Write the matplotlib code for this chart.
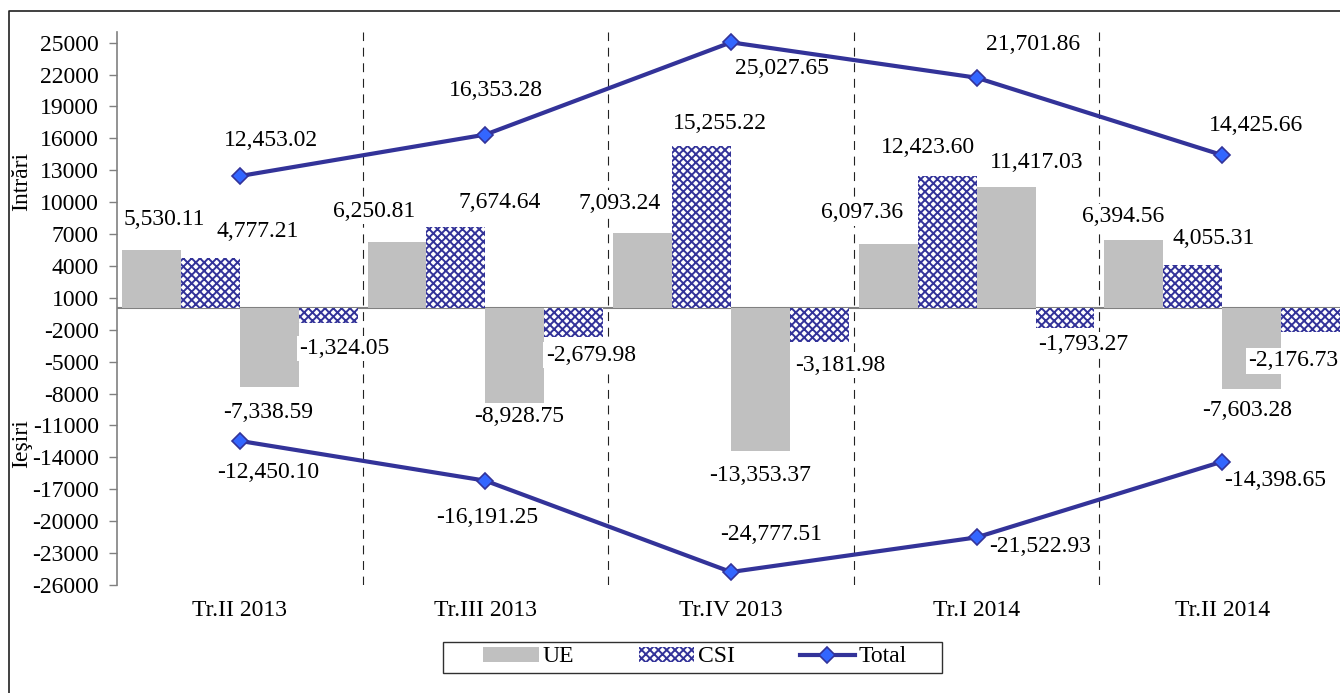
import matplotlib
matplotlib.use("Agg")
import matplotlib.pyplot as plt
import numpy as np
from matplotlib.patches import Patch, Rectangle
from matplotlib.lines import Line2D

plt.rcParams["font.family"] = ["Liberation Serif", "DejaVu Serif"]
plt.rcParams["font.size"] = 17
plt.rcParams["hatch.linewidth"] = 1.4
plt.rcParams["axes.unicode_minus"] = False

# date
trimestre = ["Tr.II 2013", "Tr.III 2013", "Tr.IV 2013", "Tr.I 2014", "Tr.II 2014"]
ue_intrari = [5530.11, 6250.81, 7093.24, 6097.36, 6394.56]
csi_intrari = [4777.21, 7674.64, 15255.22, 12423.60, 4055.31]
ue_iesiri = [-7338.59, -8928.75, -13353.37, 11417.03, -7603.28]
csi_iesiri = [-1324.05, -2679.98, -3181.98, -1793.27, -2176.73]
total_intrari = [12453.02, 16353.28, 25027.65, 21701.86, 14425.66]
total_iesiri = [-12450.10, -16191.25, -24777.51, -21522.93, -14398.65]

GRI = "#C0C0C0"
ALBASTRU = "#333399"
MARKER = "#3366FF"
HASURA = "xxxx"

# decalaje etichete (pixeli) fata de capatul barei / marker
off_ue_in = [(13, 30), (-23, 31), (-23, 30), (-26, 31), (-11, 24)]
off_csi_in = [(47, 26), (44, 24), (18, 23), (-19, 29), (21, 27)]
off_ue_out = [(-1, -26), (4, -13), (0, -25), (31, 25), (-5, -21)]
off_csi_out = [(16, -26), (17, -18), (21, -23), (18, -17), (-17, -29)]
off_tot_in = [(31, 36), (11, 44), (51, -26), (56, 33), (34, 30)]
off_tot_out = [(28, -32), (2, -37), (40, 37), (63, -9), (53, -19)]

fig = plt.figure(figsize=(13.4, 6.93), dpi=100)
ax = fig.add_axes([117 / 1340, 108 / 693, 1228 / 1340, 553 / 693])

x = np.arange(len(trimestre))
w = 0.24
pozitii = [-1.5 * w, -0.5 * w, 0.5 * w, 1.5 * w]

ax.bar(x + pozitii[0], ue_intrari, w, color=GRI, linewidth=0, zorder=3)
ax.bar(x + pozitii[1], csi_intrari, w, facecolor="white", edgecolor=ALBASTRU,
       hatch=HASURA, linewidth=0, zorder=3)
ax.bar(x + pozitii[2], ue_iesiri, w, color=GRI, linewidth=0, zorder=3)
ax.bar(x + pozitii[3], csi_iesiri, w, facecolor="white", edgecolor=ALBASTRU,
       hatch=HASURA, linewidth=0, zorder=3)

ax.plot(x, total_intrari, color=ALBASTRU, lw=3, marker="D", ms=8.5,
        mfc=MARKER, mec=ALBASTRU, mew=1.2, zorder=6)
ax.plot(x, total_iesiri, color=ALBASTRU, lw=3, marker="D", ms=8.5,
        mfc=MARKER, mec=ALBASTRU, mew=1.2, zorder=6)

cutie = dict(boxstyle="square,pad=0.1", facecolor="white", edgecolor="none")


def eticheta(xs, vals, offs, z):
    for xi, v, (dx, dy) in zip(xs, vals, offs):
        ax.annotate(f"{v:,.2f}", (xi, v), xytext=(dx, dy), textcoords="offset pixels",
                    ha="center", va="center", bbox=cutie, zorder=z)


eticheta(x + pozitii[0], ue_intrari, off_ue_in, 4)
eticheta(x + pozitii[1], csi_intrari, off_csi_in, 4)
eticheta(x + pozitii[2], ue_iesiri, off_ue_out, 2.5)
eticheta(x + pozitii[3], csi_iesiri, off_csi_out, 4)
eticheta(x, total_intrari, off_tot_in, 4)
eticheta(x, total_iesiri, off_tot_out, 4)

# separatoare intre trimestre
for xs in x[:-1] + 0.5:
    ax.axvline(xs, color="#222222", lw=0.8, ls=(0, (8, 6)), zorder=1)

ax.axhline(0, color="#808080", lw=1.5, zorder=2)

ax.set_xlim(-0.5, len(trimestre) - 0.5)
ax.set_ylim(-26000, 26000)
ax.set_yticks(np.arange(-26000, 25001, 3000))
ax.set_xticks(x)
ax.set_xticklabels(trimestre)
ax.tick_params(axis="x", length=0, pad=11)
ax.tick_params(axis="y", length=6, width=1, color="#808080", pad=7)

for s in ["top", "right", "bottom"]:
    ax.spines[s].set_visible(False)
ax.spines["left"].set_color("#808080")
ax.spines["left"].set_linewidth(1.2)

fig.text(22 / 1340, 1 - 181 / 693, "Intrări", rotation=90, ha="center", va="center")
fig.text(22 / 1340, 1 - 444 / 693, "Ieşiri", rotation=90, ha="center", va="center")

# legenda
handles = [
    Patch(facecolor=GRI, linewidth=0),
    Patch(facecolor="white", edgecolor=ALBASTRU, hatch=HASURA, linewidth=0),
    Line2D([], [], color=ALBASTRU, lw=3, marker="D", ms=8.5, mfc=MARKER,
           mec=ALBASTRU, mew=1.2),
]
fig.legend(handles, ["UE", "CSI", "Total"], loc="center", ncol=3,
           bbox_to_anchor=(695 / 1340, 1 - 657 / 693), frameon=False,
           handlelength=2.35, handleheight=0.6, handletextpad=0.15,
           columnspacing=2.75, borderpad=0.1)
fig.patches.append(Rectangle((443 / 1340, 1 - 673 / 693), 499 / 1340, 31 / 693,
                             transform=fig.transFigure, fill=False,
                             edgecolor="#303030", lw=1))

# chenar exterior
fig.add_artist(Line2D([9 / 1340, 9 / 1340, 1], [0, 1 - 10.5 / 693, 1 - 10.5 / 693],
                      transform=fig.transFigure, color="#202020", lw=1.2))

fig.savefig("out.png", dpi=100)
